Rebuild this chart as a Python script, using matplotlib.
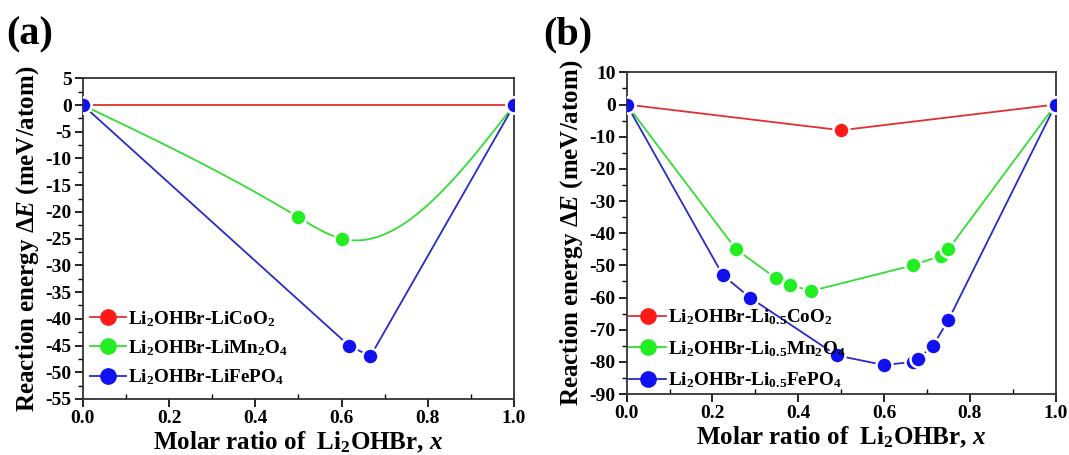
import numpy as np
import matplotlib
matplotlib.use("Agg")
import matplotlib.pyplot as plt
from matplotlib.ticker import MultipleLocator, FormatStrFormatter

plt.rcParams["font.family"] = "Liberation Serif"
plt.rcParams["font.weight"] = "bold"
plt.rcParams["axes.labelweight"] = "bold"
plt.rcParams["mathtext.fontset"] = "custom"
plt.rcParams["mathtext.rm"] = "Liberation Serif:bold"
plt.rcParams["mathtext.it"] = "Liberation Serif:bold:italic"
plt.rcParams["mathtext.bf"] = "Liberation Serif:bold"
plt.rcParams["axes.unicode_minus"] = False

# ---- panel (a): Li2OHBr vs lithiated cathodes ----
a_co_x = [0.0, 1.0]
a_co_y = [0.0, 0.0]
a_mn_x = [0.0, 0.5, 0.6, 1.0]
a_mn_y = [0.0, -21.0, -25.0, 0.0]
a_fe_x = [0.0, 0.617, 0.667, 1.0]
a_fe_y = [0.0, -45.0, -47.0, 0.0]
a_labels = ["Li$_2$OHBr-LiCoO$_2$", "Li$_2$OHBr-LiMn$_2$O$_4$", "Li$_2$OHBr-LiFePO$_4$"]

# ---- panel (b): Li2OHBr vs half-delithiated cathodes ----
b_co_x = [0.0, 0.5, 1.0]
b_co_y = [0.0, -8.0, 0.0]
b_mn_x = [0.0, 0.255, 0.348, 0.381, 0.429, 0.667, 0.733, 0.75, 1.0]
b_mn_y = [0.0, -45.0, -54.0, -56.0, -58.0, -50.0, -47.0, -45.0, 0.0]
b_fe_x = [0.0, 0.224, 0.287, 0.49, 0.6, 0.667, 0.68, 0.714, 0.75, 1.0]
b_fe_y = [0.0, -53.0, -60.0, -78.0, -81.0, -80.0, -79.0, -75.0, -67.0, 0.0]
b_labels = ["Li$_2$OHBr-Li$_{0.5}$CoO$_2$", "Li$_2$OHBr-Li$_{0.5}$Mn$_2$O$_4$",
            "Li$_2$OHBr-Li$_{0.5}$FePO$_4$"]

RED, GREEN, BLUE = "#ff1a1a", "#22ee22", "#1010f0"
LINE = {RED: "#e03030", GREEN: "#33dd33", BLUE: "#2a2ac8"}


def spline_curve(x, y, n=300):
    """Natural cubic spline through the points, only for drawing the connecting line."""
    x = np.asarray(x, float)
    y = np.asarray(y, float)
    k = len(x)
    h = np.diff(x)
    A = np.zeros((k, k))
    r = np.zeros(k)
    A[0, 0] = A[-1, -1] = 1.0
    for i in range(1, k - 1):
        A[i, i - 1] = h[i - 1]
        A[i, i] = 2 * (h[i - 1] + h[i])
        A[i, i + 1] = h[i]
        r[i] = 6 * ((y[i + 1] - y[i]) / h[i] - (y[i] - y[i - 1]) / h[i - 1])
    M = np.linalg.solve(A, r)
    xs = np.linspace(x[0], x[-1], n)
    idx = np.clip(np.searchsorted(x, xs) - 1, 0, k - 2)
    t0, t1 = xs - x[idx], x[idx + 1] - xs
    hh = h[idx]
    ys = (M[idx] * t1 ** 3 + M[idx + 1] * t0 ** 3) / (6 * hh) \
        + (y[idx] / hh - M[idx] * hh / 6) * t1 + (y[idx + 1] / hh - M[idx + 1] * hh / 6) * t0
    return xs, ys


def series(ax, x, y, color, label, smooth=False):
    if smooth:
        xs, ys = spline_curve(x, y)
    else:
        xs, ys = x, y
    ax.plot(xs, ys, color=LINE[color], lw=1.3, zorder=2)
    ax.plot(x, y, ls="none", marker="o", ms=11.5, mfc=color, mec="white", mew=1.8, zorder=3)
    # legend proxy
    ax.plot([], [], color=LINE[color], lw=1.3, marker="o", ms=11, mfc=color, mec=color,
            label=label)


def style(ax, ylim, ymaj, ymin):
    ax.set_xlim(0, 1)
    ax.set_ylim(*ylim)
    ax.xaxis.set_major_locator(MultipleLocator(0.2))
    ax.xaxis.set_minor_locator(MultipleLocator(0.1))
    ax.yaxis.set_major_locator(MultipleLocator(ymaj))
    ax.yaxis.set_minor_locator(MultipleLocator(ymin))
    ax.xaxis.set_major_formatter(FormatStrFormatter("%.1f"))
    ax.tick_params(which="major", direction="out", length=6, width=1.2, labelsize=14, pad=2)
    ax.tick_params(which="minor", direction="out", length=3.5, width=1.0)
    ax.tick_params(axis="x", which="minor", direction="in")
    for s in ax.spines.values():
        s.set_linewidth(1.3)
        s.set_color("#333333")
    ax.set_xlabel("Molar ratio of  Li$_2$OHBr, $x$", fontsize=18, fontweight="bold", labelpad=2)
    ax.set_ylabel("Reaction energy $\\Delta E$ (meV/atom)", fontsize=18, fontweight="bold",
                  labelpad=3)


fig = plt.figure(figsize=(10.69, 4.55), dpi=100)
ax1 = fig.add_axes([0.0774, 0.1231, 0.4035, 0.7048])
ax2 = fig.add_axes([0.5862, 0.1340, 0.4013, 0.7070])

series(ax1, a_co_x, a_co_y, RED, a_labels[0])
series(ax1, a_mn_x, a_mn_y, GREEN, a_labels[1], smooth=True)
series(ax1, a_fe_x, a_fe_y, BLUE, a_labels[2])
style(ax1, (-55, 5), 5, 2.5)

series(ax2, b_co_x, b_co_y, RED, b_labels[0])
series(ax2, b_mn_x, b_mn_y, GREEN, b_labels[1])
series(ax2, b_fe_x, b_fe_y, BLUE, b_labels[2])
style(ax2, (-90, 10), 10, 5)

ax1.legend(loc="lower left", bbox_to_anchor=(-0.015, -0.005), frameon=False, fontsize=13.8,
           handlelength=1.9, handletextpad=0.12, labelspacing=0.5, borderaxespad=0.3)
ax2.legend(loc="lower left", bbox_to_anchor=(-0.025, -0.03), frameon=False, fontsize=13.8,
           handlelength=1.9, handletextpad=0.12, labelspacing=0.62, borderaxespad=0.3)

fig.text(0.006, 0.965, "(a)", fontsize=29, fontweight="bold", va="top", ha="left")
fig.text(0.508, 0.965, "(b)", fontsize=29, fontweight="bold", va="top", ha="left")

fig.canvas.draw()
for ax in (ax1, ax2):
    for t in ax.get_yticklabels() + ax.get_xticklabels():
        t.set_fontweight("bold")

fig.savefig("out.png", dpi=100)
